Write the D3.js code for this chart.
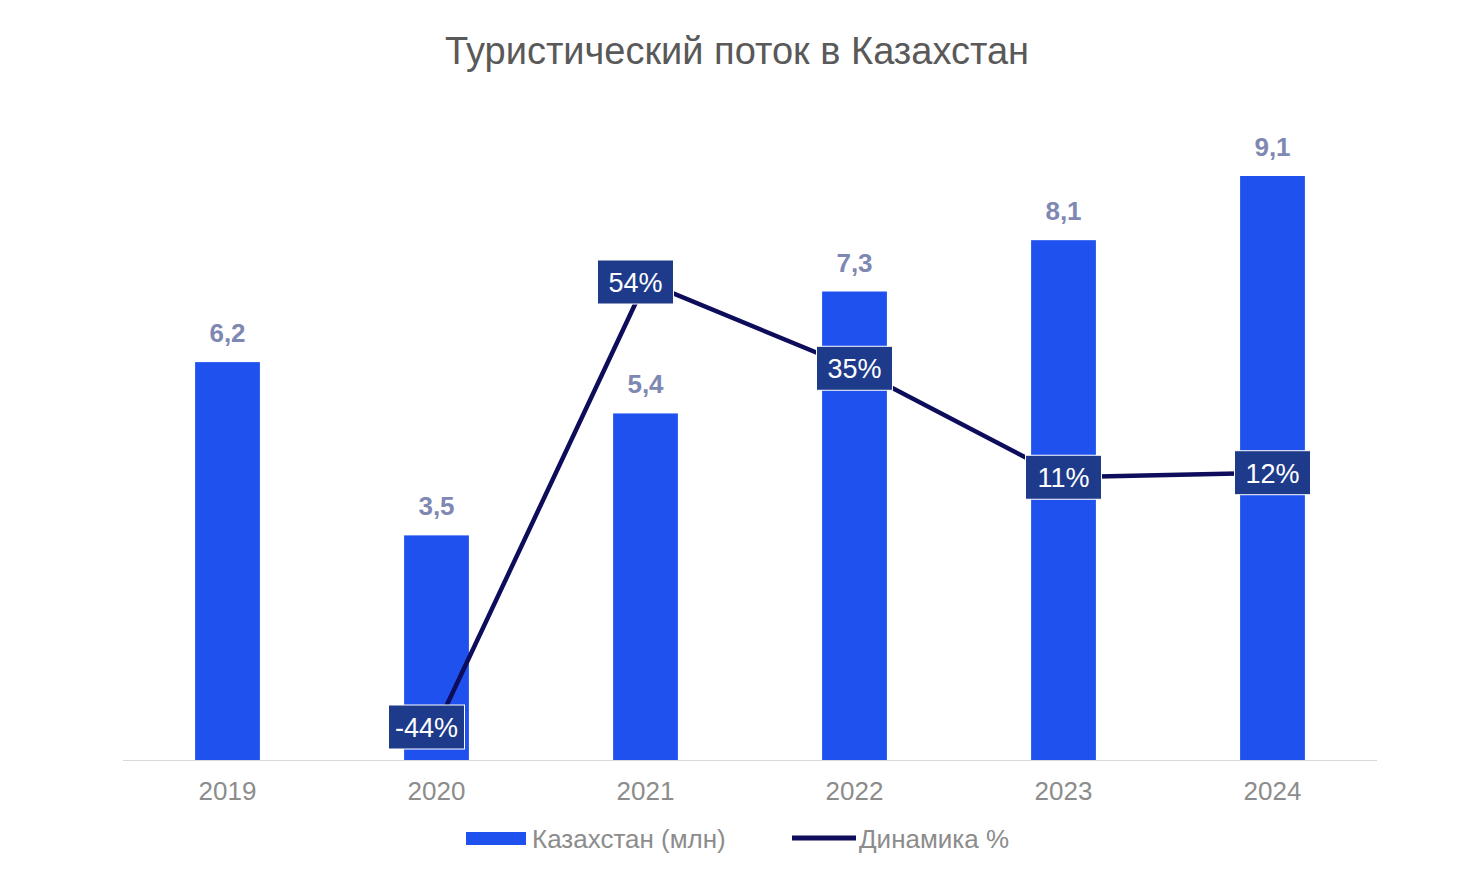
<!DOCTYPE html><html><head><meta charset="utf-8"><script src="https://cdn.jsdelivr.net/npm/d3@7"></script>
<style>body{margin:0;background:#fff}text{font-family:Arial,"Liberation Sans",sans-serif}</style></head><body><svg id="c" width="1471" height="872"></svg><script>
const years=["2019","2020","2021","2022","2023","2024"];
const tourists=[6.2,3.5,5.4,7.3,8.1,9.1];
const dynYears=["2020","2021","2022","2023","2024"];
const dynamics=[-44,54,35,11,12];
const svg=d3.select("#c");
const x=d3.scaleBand().domain(years).range([123,1377]).paddingInner(0.69).paddingOuter(0.345);
const y=d3.scaleLinear().domain([0,9.1]).range([760,176]);
const y2=d3.scaleLinear().domain([-44,54]).range([727,282]);
svg.append("text").attr("x",737).attr("y",64).attr("text-anchor","middle").attr("font-size",38).attr("fill","#595959").text("Туристический поток в Казахстан");
svg.append("line").attr("x1",123).attr("x2",1377).attr("y1",760.5).attr("y2",760.5).attr("stroke","#d9d9d9");
svg.selectAll(".b").data(years).enter().append("rect").attr("x",d=>x(d)).attr("width",x.bandwidth()).attr("y",(d,i)=>y(tourists[i])).attr("height",(d,i)=>760-y(tourists[i])).attr("fill","#1f51ef");
svg.selectAll(".bl").data(years).enter().append("text").attr("x",d=>x(d)+x.bandwidth()/2).attr("y",(d,i)=>y(tourists[i])-20).attr("text-anchor","middle").attr("font-size",26).attr("font-weight","bold").attr("fill","#7f88b3").text((d,i)=>String(tourists[i]).replace(".",","));
const ax=svg.append("g").attr("transform","translate(0,760)").call(d3.axisBottom(x).tickSize(0).tickPadding(22));
ax.select(".domain").remove();ax.selectAll("text").attr("font-size",26).attr("fill","#8c8c8c").attr("font-family","Arial,'Liberation Sans',sans-serif");
const cx=d=>x(d)+x.bandwidth()/2;
svg.append("path").datum(dynYears).attr("d",d3.line().x(d=>cx(d)).y((d,i)=>y2(dynamics[i]))).attr("fill","none").attr("stroke","#0d0d5c").attr("stroke-width",4.5);
const lg=svg.selectAll(".dl").data(dynYears).enter().append("g").attr("transform",(d,i)=>`translate(${cx(d)-(i<2?10:0)},${y2(dynamics[i])})`);
lg.append("rect").attr("x",-38).attr("y",-22).attr("width",76).attr("height",44).attr("fill","#1e3a8a").attr("stroke","#fff").attr("stroke-width",1);
lg.append("text").attr("y",10).attr("text-anchor","middle").attr("font-size",27).attr("fill","#fff").text((d,i)=>dynamics[i]+"%");
svg.append("rect").attr("x",466).attr("y",832).attr("width",60).attr("height",13).attr("fill","#1f51ef");
svg.append("text").attr("x",532).attr("y",848).attr("font-size",26).attr("fill","#8c8c8c").text("Казахстан (млн)");
svg.append("line").attr("x1",792).attr("x2",856).attr("y1",838).attr("y2",838).attr("stroke","#0d0d5c").attr("stroke-width",5);
svg.append("text").attr("x",859).attr("y",848).attr("font-size",26).attr("fill","#8c8c8c").text("Динамика  %");
</script></body></html>
